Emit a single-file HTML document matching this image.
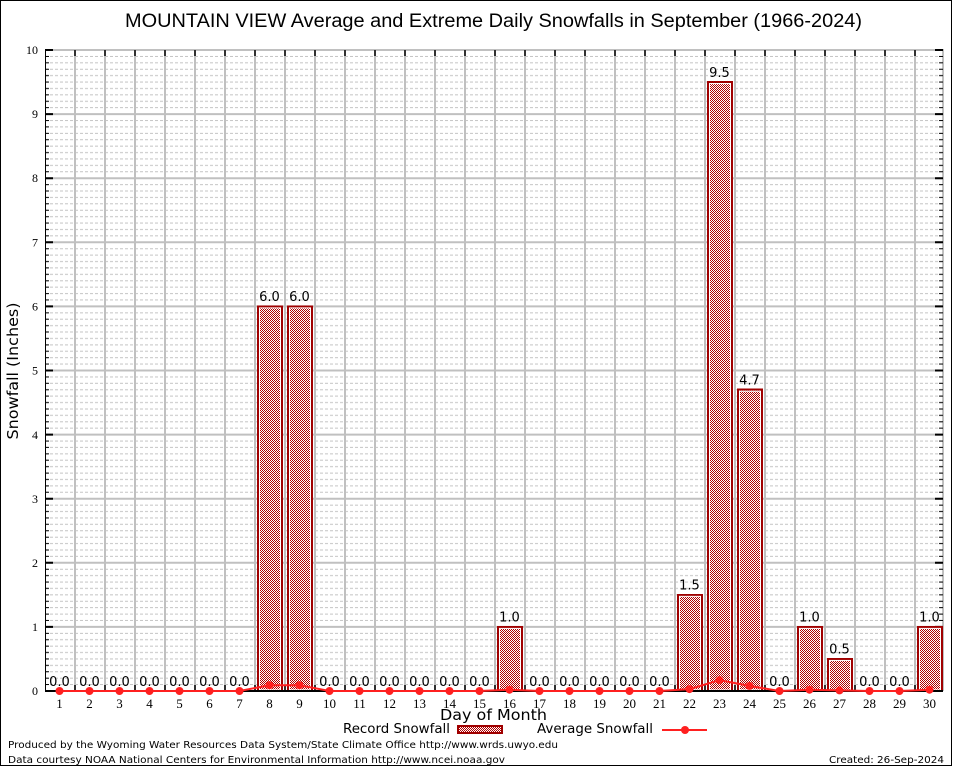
<!DOCTYPE html>
<html><head><meta charset="utf-8"><style>
html,body{margin:0;padding:0;background:#fff;}
svg{display:block;}
</style></head><body>
<svg width="954" height="768" viewBox="0 0 954 768" xmlns="http://www.w3.org/2000/svg">
<defs>
<pattern id="minor" patternUnits="userSpaceOnUse" x="0" y="691" width="1000" height="64.1">
<path d="M45 6.41H943M45 12.82H943M45 19.23H943M45 25.64H943M45 32.05H943M45 38.46H943M45 44.87H943M45 51.28H943M45 57.69H943" stroke="#c4c4c4" stroke-width="1" stroke-dasharray="3,2"/>
</pattern>
<pattern id="ltick" patternUnits="userSpaceOnUse" x="0" y="691" width="1000" height="64.1">
<path d="M45 6.41h4M45 12.82h4M45 19.23h4M45 25.64h4M45 32.05h4M45 38.46h4M45 44.87h4M45 51.28h4M45 57.69h4M939 6.41h4M939 12.82h4M939 19.23h4M939 25.64h4M939 32.05h4M939 38.46h4M939 44.87h4M939 51.28h4M939 57.69h4" stroke="#000" stroke-width="1"/>
</pattern>
<pattern id="chk" patternUnits="userSpaceOnUse" x="0" y="0" width="2" height="2">
<rect width="2" height="2" fill="#fff"/>
<rect x="0" y="0" width="1" height="1" fill="#b00000"/>
<rect x="1" y="1" width="1" height="1" fill="#b00000"/>
</pattern>
</defs>
<rect x="0" y="0" width="954" height="768" fill="#fff"/>
<rect x="0.5" y="0.5" width="951" height="765" fill="none" stroke="#000" stroke-width="1"/>

<text x="493.5" y="27" font-family="Liberation Sans, sans-serif" font-size="19" text-anchor="middle" textLength="737" lengthAdjust="spacingAndGlyphs">MOUNTAIN VIEW Average and Extreme Daily Snowfalls in September (1966-2024)</text>

<!-- minor grid -->
<rect x="45" y="50" width="898" height="641" fill="url(#minor)"/>
<!-- major horizontal grid -->
<path d="M45 626.9H943M45 562.8H943M45 498.7H943M45 434.6H943M45 370.5H943M45 306.4H943M45 242.3H943M45 178.2H943M45 114.1H943" stroke="#c0c0c0" stroke-width="2"/>
<!-- vertical grid -->
<path d="M75 50V691M105 50V691M135 50V691M165 50V691M195 50V691M225 50V691M255 50V691M285 50V691M315 50V691M345 50V691M375 50V691M405 50V691M435 50V691M465 50V691M495 50V691M525 50V691M555 50V691M585 50V691M615 50V691M645 50V691M675 50V691M705 50V691M735 50V691M765 50V691M795 50V691M825 50V691M855 50V691M885 50V691M915 50V691" stroke="#c0c0c0" stroke-width="2"/>
<!-- frame -->
<path d="M45 50H943V691" stroke="#c0c0c0" stroke-width="2" fill="none"/>
<rect x="45" y="50" width="898" height="641" fill="url(#ltick)"/>
<path d="M45.5 50V691" stroke="#000" stroke-width="1"/>
<!-- major ticks -->
<path d="M45 626.9h8M45 562.8h8M45 498.7h8M45 434.6h8M45 370.5h8M45 306.4h8M45 242.3h8M45 178.2h8M45 114.1h8M45 50h8M943 626.9h-8M943 562.8h-8M943 498.7h-8M943 434.6h-8M943 370.5h-8M943 306.4h-8M943 242.3h-8M943 178.2h-8M943 114.1h-8M943 50h-8" stroke="#000" stroke-width="2"/>
<path d="M75 50v6M105 50v6M135 50v6M165 50v6M195 50v6M225 50v6M255 50v6M285 50v6M315 50v6M345 50v6M375 50v6M405 50v6M435 50v6M465 50v6M495 50v6M525 50v6M555 50v6M585 50v6M615 50v6M645 50v6M675 50v6M705 50v6M735 50v6M765 50v6M795 50v6M825 50v6M855 50v6M885 50v6M915 50v6M75 691v-6M105 691v-6M135 691v-6M165 691v-6M195 691v-6M225 691v-6M255 691v-6M285 691v-6M315 691v-6M345 691v-6M375 691v-6M405 691v-6M435 691v-6M465 691v-6M495 691v-6M525 691v-6M555 691v-6M585 691v-6M615 691v-6M645 691v-6M675 691v-6M705 691v-6M735 691v-6M765 691v-6M795 691v-6M825 691v-6M855 691v-6M885 691v-6M915 691v-6" stroke="#000" stroke-width="1.5"/>

<!-- bars -->
<g stroke="#a00000" stroke-width="2" fill="url(#chk)" shape-rendering="crispEdges">
<rect x="258" y="306.4" width="24" height="384.6"/>
<rect x="288" y="306.4" width="24" height="384.6"/>
<rect x="498" y="626.9" width="24" height="64.1"/>
<rect x="678" y="594.85" width="24" height="96.15"/>
<rect x="708" y="82.05" width="24" height="608.95"/>
<rect x="738" y="389.73" width="24" height="301.27"/>
<rect x="798" y="626.9" width="24" height="64.1"/>
<rect x="828" y="658.95" width="24" height="32.05"/>
<rect x="918" y="626.9" width="24" height="64.1"/>
</g>
<g stroke="#fff" stroke-width="1" fill="none">
<rect x="259.5" y="307.9" width="21" height="382"/>
<rect x="289.5" y="307.9" width="21" height="382"/>
<rect x="499.5" y="628.4" width="21" height="61.5"/>
<rect x="679.5" y="596.35" width="21" height="93.5"/>
<rect x="709.5" y="83.55" width="21" height="606.4"/>
<rect x="739.5" y="391.23" width="21" height="298.7"/>
<rect x="799.5" y="628.4" width="21" height="61.5"/>
<rect x="829.5" y="660.45" width="21" height="29.5"/>
<rect x="919.5" y="628.4" width="21" height="61.5"/>
</g>

<!-- bottom axis -->
<path d="M45 691H943" stroke="#000" stroke-width="2"/>

<!-- value labels -->
<g font-family="DejaVu Sans, sans-serif" font-size="13" text-anchor="middle" fill="#000">
<text x="59.5" y="686">0.0</text>
<text x="89.5" y="686">0.0</text>
<text x="119.5" y="686">0.0</text>
<text x="149.5" y="686">0.0</text>
<text x="179.5" y="686">0.0</text>
<text x="209.5" y="686">0.0</text>
<text x="239.5" y="686">0.0</text>
<text x="269.5" y="301">6.0</text>
<text x="299.5" y="301">6.0</text>
<text x="329.5" y="686">0.0</text>
<text x="359.5" y="686">0.0</text>
<text x="389.5" y="686">0.0</text>
<text x="419.5" y="686">0.0</text>
<text x="449.5" y="686">0.0</text>
<text x="479.5" y="686">0.0</text>
<text x="509.5" y="621.5">1.0</text>
<text x="539.5" y="686">0.0</text>
<text x="569.5" y="686">0.0</text>
<text x="599.5" y="686">0.0</text>
<text x="629.5" y="686">0.0</text>
<text x="659.5" y="686">0.0</text>
<text x="689.5" y="589.5">1.5</text>
<text x="719.5" y="77">9.5</text>
<text x="749.5" y="384.5">4.7</text>
<text x="779.5" y="686">0.0</text>
<text x="809.5" y="621.5">1.0</text>
<text x="839.5" y="653.5">0.5</text>
<text x="869.5" y="686">0.0</text>
<text x="899.5" y="686">0.0</text>
<text x="929.5" y="621.5">1.0</text>
</g>

<!-- average line -->
<polyline fill="none" stroke="#ff2020" stroke-width="2" points="59.5,691 89.5,691 119.5,691 149.5,691 179.5,691 209.5,691 239.5,691 269.5,685.2 299.5,685.2 329.5,691 359.5,691 389.5,691 419.5,691 449.5,691 479.5,691 509.5,689.7 539.5,691 569.5,691 599.5,691 629.5,691 659.5,691 689.5,689.1 719.5,680.1 749.5,685.9 779.5,691 809.5,689.7 839.5,690.4 869.5,691 899.5,691 929.5,689.7"/>
<g fill="#ff2020">
<circle cx="59.5" cy="691" r="4"/><circle cx="89.5" cy="691" r="4"/><circle cx="119.5" cy="691" r="4"/><circle cx="149.5" cy="691" r="4"/><circle cx="179.5" cy="691" r="4"/><circle cx="209.5" cy="691" r="4"/><circle cx="239.5" cy="691" r="4"/><circle cx="269.5" cy="685.2" r="4"/><circle cx="299.5" cy="685.2" r="4"/><circle cx="329.5" cy="691" r="4"/><circle cx="359.5" cy="691" r="4"/><circle cx="389.5" cy="691" r="4"/><circle cx="419.5" cy="691" r="4"/><circle cx="449.5" cy="691" r="4"/><circle cx="479.5" cy="691" r="4"/><circle cx="509.5" cy="689.7" r="4"/><circle cx="539.5" cy="691" r="4"/><circle cx="569.5" cy="691" r="4"/><circle cx="599.5" cy="691" r="4"/><circle cx="629.5" cy="691" r="4"/><circle cx="659.5" cy="691" r="4"/><circle cx="689.5" cy="689.1" r="4"/><circle cx="719.5" cy="680.1" r="4"/><circle cx="749.5" cy="685.9" r="4"/><circle cx="779.5" cy="691" r="4"/><circle cx="809.5" cy="689.7" r="4"/><circle cx="839.5" cy="690.4" r="4"/><circle cx="869.5" cy="691" r="4"/><circle cx="899.5" cy="691" r="4"/><circle cx="929.5" cy="689.7" r="4"/>
</g>

<!-- y tick labels -->
<g font-family="Liberation Serif, serif" font-size="12" text-anchor="end" fill="#000">
<text x="38" y="695">0</text>
<text x="38" y="631">1</text>
<text x="38" y="567">2</text>
<text x="38" y="503">3</text>
<text x="38" y="439">4</text>
<text x="38" y="374.5">5</text>
<text x="38" y="310.5">6</text>
<text x="38" y="246.5">7</text>
<text x="38" y="182">8</text>
<text x="38" y="118">9</text>
<text x="38" y="54">10</text>
</g>
<!-- x tick labels -->
<g font-family="Liberation Serif, serif" font-size="13" text-anchor="middle" fill="#000">
<text x="59.5" y="708">1</text><text x="89.5" y="708">2</text><text x="119.5" y="708">3</text><text x="149.5" y="708">4</text><text x="179.5" y="708">5</text><text x="209.5" y="708">6</text><text x="239.5" y="708">7</text><text x="269.5" y="708">8</text><text x="299.5" y="708">9</text><text x="329.5" y="708">10</text><text x="359.5" y="708">11</text><text x="389.5" y="708">12</text><text x="419.5" y="708">13</text><text x="449.5" y="708">14</text><text x="479.5" y="708">15</text><text x="509.5" y="708">16</text><text x="539.5" y="708">17</text><text x="569.5" y="708">18</text><text x="599.5" y="708">19</text><text x="629.5" y="708">20</text><text x="659.5" y="708">21</text><text x="689.5" y="708">22</text><text x="719.5" y="708">23</text><text x="749.5" y="708">24</text><text x="779.5" y="708">25</text><text x="809.5" y="708">26</text><text x="839.5" y="708">27</text><text x="869.5" y="708">28</text><text x="899.5" y="708">29</text><text x="929.5" y="708">30</text>
</g>

<!-- axis labels -->
<text x="493.5" y="720" font-family="DejaVu Sans, sans-serif" font-size="15" text-anchor="middle" textLength="107" lengthAdjust="spacingAndGlyphs">Day of Month</text>
<text transform="translate(18,371) rotate(-90)" x="0" y="0" font-family="DejaVu Sans, sans-serif" font-size="15" text-anchor="middle" textLength="137" lengthAdjust="spacingAndGlyphs">Snowfall (Inches)</text>

<!-- legend -->
<text x="343" y="733" font-family="DejaVu Sans, sans-serif" font-size="13" textLength="107" lengthAdjust="spacingAndGlyphs">Record Snowfall</text>
<rect x="458" y="726" width="44" height="7" fill="url(#chk)" stroke="#a00000" stroke-width="2" shape-rendering="crispEdges"/>
<text x="537" y="733" font-family="DejaVu Sans, sans-serif" font-size="13" textLength="116" lengthAdjust="spacingAndGlyphs">Average Snowfall</text>
<path d="M662 730H707" stroke="#ff2020" stroke-width="2"/>
<circle cx="685" cy="730" r="4" fill="#ff2020"/>

<!-- footer -->
<text x="8" y="748" font-family="DejaVu Sans, sans-serif" font-size="10" textLength="550" lengthAdjust="spacingAndGlyphs">Produced by the Wyoming Water Resources Data System/State Climate Office http://www.wrds.uwyo.edu</text>
<text x="8" y="763" font-family="DejaVu Sans, sans-serif" font-size="10" textLength="497" lengthAdjust="spacingAndGlyphs">Data courtesy NOAA National Centers for Environmental Information http://www.ncei.noaa.gov</text>
<text x="944" y="763" font-family="DejaVu Sans, sans-serif" font-size="10" text-anchor="end" textLength="115" lengthAdjust="spacingAndGlyphs">Created: 26-Sep-2024</text>
</svg>
</body></html>
